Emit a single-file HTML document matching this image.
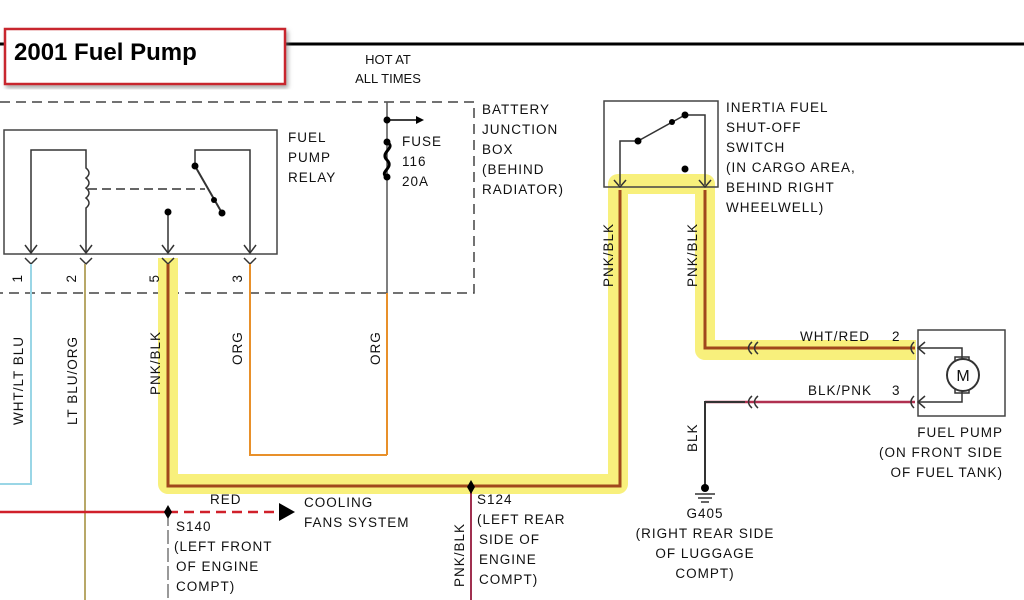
<!DOCTYPE html>
<html><head><style>
html,body{margin:0;padding:0;background:#fff;width:1024px;height:600px;overflow:hidden}
svg text{font-family:"Liberation Sans",sans-serif;fill:#111}
</style></head><body>
<svg width="1024" height="600" viewBox="0 0 1024 600" xmlns="http://www.w3.org/2000/svg">
<defs><filter id="sh"><feDropShadow dx="2" dy="3" stdDeviation="2" flood-color="#777" flood-opacity="0.6"/></filter></defs>
<line x1="0" y1="44" x2="1024" y2="44" stroke="#000" stroke-width="3"/>
<rect x="5" y="29" width="280" height="55" fill="#fff" stroke="#c8282e" stroke-width="2.5" filter="url(#sh)"/>
<text x="14" y="60" font-size="24" font-weight="bold" style="fill:#000">2001 Fuel Pump</text>
<text x="388" y="64" font-size="13" text-anchor="middle">HOT AT</text>
<text x="388" y="83" font-size="13" text-anchor="middle">ALL TIMES</text>
<path d="M0 102 H474 V293 H0" fill="none" stroke="#444" stroke-width="1.5" stroke-dasharray="10,6"/>
<g font-size="13.5" letter-spacing="1">
<text x="482" y="114">BATTERY</text><text x="482" y="134">JUNCTION</text><text x="482" y="154">BOX</text><text x="482" y="174">(BEHIND</text><text x="482" y="194">RADIATOR)</text>
<text x="288" y="142">FUEL</text><text x="288" y="162">PUMP</text><text x="288" y="182">RELAY</text>
<text x="402" y="146">FUSE</text><text x="402" y="166">116</text><text x="402" y="186">20A</text>
<text x="726" y="112">INERTIA FUEL</text><text x="726" y="132">SHUT-OFF</text><text x="726" y="152">SWITCH</text><text x="726" y="172">(IN CARGO AREA,</text><text x="726" y="192">BEHIND RIGHT</text><text x="726" y="212">WHEELWELL)</text>
</g>
<line x1="387" y1="102" x2="387" y2="293" stroke="#555" stroke-width="1.5"/>
<line x1="387" y1="293" x2="387" y2="455" stroke="#e8902a" stroke-width="2"/>
<circle cx="387" cy="120" r="3.5" fill="#000"/><line x1="387" y1="120" x2="418" y2="120" stroke="#000" stroke-width="1.5"/><path d="M416 116 L424 120 L416 124Z" fill="#000"/>
<path d="M387 142 C397 148 379 152 387 160 C395 168 378 172 387 177" fill="none" stroke="#000" stroke-width="3"/>
<circle cx="387" cy="142" r="3.5" fill="#000"/><circle cx="387" cy="177" r="3.5" fill="#000"/>
<rect x="4" y="130" width="273" height="124" fill="none" stroke="#444" stroke-width="1.5"/>
<g stroke="#333" stroke-width="1.5" fill="none">
<path d="M31 252 V150 H86 V168 q6 5 0 10 q6 5 0 10 q6 5 0 10 q6 5 0 10 V252"/>
<path d="M88 189 H205" stroke-dasharray="9,5"/>
<path d="M195 166 V150 H250 V252"/>
<path d="M195 166 L222 213" stroke-width="2"/>
<path d="M168 212 V252"/>
<path d="M25 245 L31 253 L37 245 M80 245 L86 253 L92 245 M162 245 L168 253 L174 245 M244 245 L250 253 L256 245"/>
</g>
<circle cx="195" cy="166" r="3.5" fill="#000"/><circle cx="214" cy="200" r="3" fill="#000"/><circle cx="222" cy="213" r="3.5" fill="#000"/><circle cx="168" cy="212" r="3.5" fill="#000"/>
<path d="M168 258 V484 H618 V184 H705 V350 H916" fill="none" stroke="#f8f07c" stroke-width="20" stroke-linejoin="round"/>
<g stroke="#333" stroke-width="1.5" fill="none">
<path d="M25 258 L31 264 L37 258 M80 258 L86 264 L92 258 M162 258 L168 264 L174 258 M244 258 L250 264 L256 258"/>
</g>
<path d="M31 264 V484 H0" fill="none" stroke="#9ad6e6" stroke-width="2"/>
<path d="M85 264 V600" fill="none" stroke="#b8a868" stroke-width="2"/>
<path d="M250 264 V455 H387" fill="none" stroke="#e8902a" stroke-width="2"/>
<path d="M168 264 V486 H620 V190" fill="none" stroke="#a0481c" stroke-width="3"/>
<path d="M705 190 V348 H915" fill="none" stroke="#a0481c" stroke-width="3"/>
<path d="M705 402 H915" stroke="#b03050" stroke-width="2.5"/>
<path d="M745 402 H705 V487" fill="none" stroke="#333" stroke-width="2"/>
<path d="M471 487 V600" stroke="#a03050" stroke-width="2"/>
<path d="M0 512 H165" stroke="#d0202a" stroke-width="2.5"/>
<path d="M168 512 H280" stroke="#d0202a" stroke-width="2.5" stroke-dasharray="10,6"/>
<path d="M279 503 L295 512 L279 521Z" fill="#000"/>
<path d="M168 512 V600" stroke="#333" stroke-width="1" stroke-dasharray="14,4"/>
<path d="M164 512 L168 505 L172 512 L168 519Z" fill="#000"/>
<path d="M467 487 L471 480 L475 487 L471 494Z" fill="#000"/>
<g stroke="#333" stroke-width="1.5" fill="none">
<path d="M752 342 q-7 6 0 12 M758 342 q-7 6 0 12 M752 396 q-7 6 0 12 M758 396 q-7 6 0 12"/>
<path d="M914 342 q-6 6 0 12 M914 396 q-6 6 0 12"/>
</g>
<rect x="604" y="101" width="114" height="86" fill="none" stroke="#444" stroke-width="1.5"/>
<g stroke="#333" stroke-width="1.5" fill="none">
<path d="M620 185 V141 H638 L685 115 H705 V185"/>
<path d="M614 180 L620 187 L626 180 M699 180 L705 187 L711 180"/>
</g>
<circle cx="638" cy="141" r="3.5" fill="#000"/><circle cx="672" cy="122" r="3" fill="#000"/><circle cx="685" cy="115" r="3.5" fill="#000"/><circle cx="685" cy="169" r="3.5" fill="#000"/>
<rect x="918" y="330" width="87" height="86" fill="none" stroke="#444" stroke-width="1.5"/>
<g stroke="#333" stroke-width="1.5" fill="none">
<path d="M918 348 H962 V360 M918 402 H962 V390"/>
<path d="M925 342 L918 348 L925 354 M925 396 L918 402 L925 408"/>
<rect x="955" y="357" width="14" height="6"/><rect x="955" y="387" width="14" height="6"/>
<circle cx="963" cy="375" r="16" fill="#fff" stroke-width="2"/>
</g>
<text x="963" y="381" font-size="16" text-anchor="middle">M</text>
<circle cx="705" cy="488" r="4" fill="#000"/>
<path d="M695 494 H715 M698 498 H712 M701 502 H709" stroke="#333" stroke-width="1.5"/>
<g font-size="13.5" letter-spacing="1">
<text x="800" y="341">WHT/RED</text><text x="892" y="341">2</text>
<text x="808" y="395">BLK/PNK</text><text x="892" y="395">3</text>
<text x="1003" y="437" text-anchor="end">FUEL PUMP</text>
<text x="1003" y="457" text-anchor="end">(ON FRONT SIDE</text>
<text x="1003" y="477" text-anchor="end">OF FUEL TANK)</text>
<text x="705" y="518" text-anchor="middle">G405</text>
<text x="705" y="538" text-anchor="middle">(RIGHT REAR SIDE</text>
<text x="705" y="558" text-anchor="middle">OF LUGGAGE</text>
<text x="705" y="578" text-anchor="middle">COMPT)</text>
<text x="210" y="504">RED</text>
<text x="304" y="507">COOLING</text><text x="304" y="527">FANS SYSTEM</text>
<text x="176" y="531">S140</text><text x="174" y="551">(LEFT FRONT</text><text x="176" y="571">OF ENGINE</text><text x="176" y="591">COMPT)</text>
<text x="477" y="504">S124</text><text x="477" y="524">(LEFT REAR</text><text x="479" y="544">SIDE OF</text><text x="479" y="564">ENGINE</text><text x="479" y="584">COMPT)</text>
</g>
<g font-size="13.5" letter-spacing="1">
<text transform="translate(22,274) rotate(-90)" text-anchor="end">1</text>
<text transform="translate(76,274) rotate(-90)" text-anchor="end">2</text>
<text transform="translate(159,274) rotate(-90)" text-anchor="end">5</text>
<text transform="translate(242,274) rotate(-90)" text-anchor="end">3</text>
<text transform="translate(23,425) rotate(-90)">WHT/LT BLU</text>
<text transform="translate(77,425) rotate(-90)">LT BLU/ORG</text>
<text transform="translate(160,395) rotate(-90)">PNK/BLK</text>
<text transform="translate(242,365) rotate(-90)">ORG</text>
<text transform="translate(380,365) rotate(-90)">ORG</text>
<text transform="translate(613,287) rotate(-90)">PNK/BLK</text>
<text transform="translate(697,287) rotate(-90)">PNK/BLK</text>
<text transform="translate(697,452) rotate(-90)">BLK</text>
<text transform="translate(464,587) rotate(-90)">PNK/BLK</text>
</g>
</svg>
</body></html>
